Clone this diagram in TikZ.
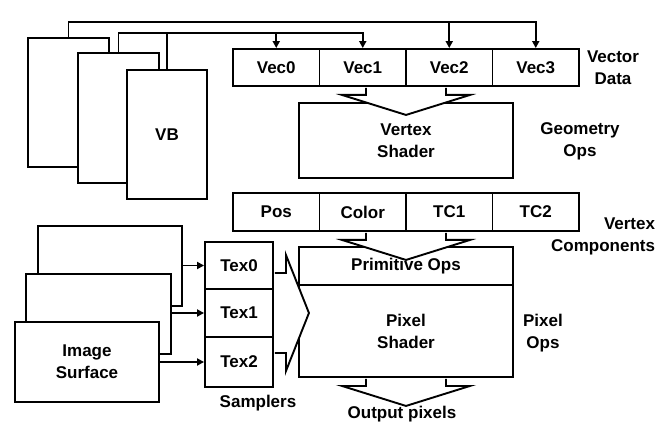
\documentclass[tikz,border=0pt]{standalone}
\usepackage{fontspec}
\setmainfont{Liberation Sans}
\usetikzlibrary{arrows.meta}
\begin{document}
\begin{tikzpicture}[x=1pt,y=-1pt,line width=1.9pt,
  txt/.style={font=\bfseries\fontsize{17}{22}\selectfont,align=center,inner sep=0pt},
  bx/.style={txt,draw,fill=white},
  wire/.style={line width=1.9pt},
  tri/.style={-{Triangle[length=7pt,width=7pt]}},
  chev/.style={draw,fill=white,line join=miter},
  chevdown/.pic={\path[chev] (-40,1) -- (-40,8) -- (-64,8) -- (0,28) -- (64,8) -- (40,8) -- (40,1);},
  chevright/.pic={\path[chev] (1,-40) -- (12,-40) -- (12,-58) -- (35,0) -- (12,58) -- (12,40) -- (1,40);}
]
\useasboundingbox (0,0) rectangle (664,430);
\coordinate (topA) at (0,22);
\coordinate (topB) at (0,33);

% vertex buffer stack
\node[bx,minimum width=81pt,minimum height=129pt] (vbA) at (68.5,102.5) {};
\node[bx,minimum width=81pt,minimum height=130pt] (vbB) at (118.5,118) {};
\node[bx,minimum width=80pt,minimum height=129pt] (vbC) at (167,134.5) {VB};

% vector data row
\node[bx,minimum width=86.5pt,minimum height=37pt] (vec0) at (276.25,67.5) {Vec0};
\node[bx,minimum width=86.5pt,minimum height=37pt] (vec1) at (362.75,67.5) {Vec1};
\node[bx,minimum width=86.5pt,minimum height=37pt] (vec2) at (449.25,67.5) {Vec2};
\node[bx,minimum width=86.5pt,minimum height=37pt] (vec3) at (535.75,67.5) {Vec3};

% vertex shader
\node[bx,minimum width=214pt,minimum height=75pt] (vs) at (406,140.5) {Vertex\\Shader};

% vertex components row
\node[bx,minimum width=86.5pt,minimum height=38pt] (pos) at (276.25,212) {Pos};
\node[bx,minimum width=86.5pt,minimum height=38pt] (color) at (362.75,212) {Color};
\node[bx,minimum width=86.5pt,minimum height=38pt] (tc1) at (449.25,212) {TC1};
\node[bx,minimum width=86.5pt,minimum height=38pt] (tc2) at (535.75,212) {TC2};

% primitive ops / pixel shader
\node[bx,minimum width=214pt,minimum height=38pt] (prim) at (406,266) {Primitive Ops};
\node[bx,minimum width=214pt,minimum height=92pt] (ps) at (406,331) {Pixel\\Shader};

% samplers
\node[bx,minimum width=68pt,minimum height=47pt] (tex0) at (239,265.5) {Tex0};
\node[bx,minimum width=68pt,minimum height=48pt] (tex1) at (239,313) {Tex1};
\node[bx,minimum width=68pt,minimum height=50pt] (tex2) at (239,362) {Tex2};

% image surface stack
\node[bx,minimum width=144pt,minimum height=80pt] (isA) at (110,266) {};
\node[bx,minimum width=145pt,minimum height=80pt] (isB) at (98.5,314) {};
\node[bx,minimum width=144pt,minimum height=80pt] (isC) at (87,362) {Image\\Surface};

% labels
\node[txt] (lvd) at (613,68) {Vector\\Data};
\node[txt] (lgo) at (580,141) {Geometry\\Ops};
\node[txt,align=right,anchor=east] (lvc) at (656,236) {Vertex\\Components};
\node[txt] (lpo) at (543,333) {Pixel\\Ops};
\node[txt] (lsa) at (258,403) {Samplers};
\node[txt] (lop) at (402,414) {Output pixels};

% wiring from vertex buffers to vector data
\draw[wire,tri] (vbA.north) |- (vec3.north |- topA) -- (vec3.north);
\draw[wire,tri] (vec2.north |- topA) -- (vec2.north);
\draw[wire,tri] (vbB.north) |- (vec1.north |- topB) -- (vec1.north);
\draw[wire] (vbC.north) -- (vbC.north |- topB);
\draw[wire,tri] (vec0.north |- topB) -- (vec0.north);

% image surfaces to samplers
\draw[wire,tri] (isA.east |- tex0) -- (tex0.west);
\draw[wire,tri] (isB.east |- tex1) -- (tex1.west);
\draw[wire,tri] (isC.east |- tex2) -- (tex2.west);

% fat chevron arrows
\pic at (vs.north |- vec0.south) {chevdown};
\pic at (prim.north |- pos.south) {chevdown};
\pic at (ps.south) {chevdown};
\pic at (tex1.east) {chevright};
\end{tikzpicture}
\end{document}
